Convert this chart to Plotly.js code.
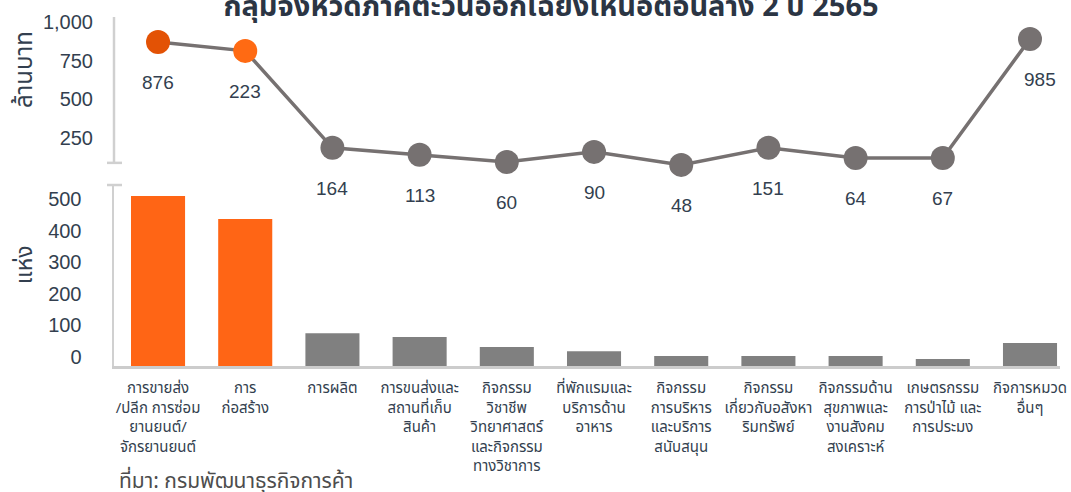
<!DOCTYPE html>
<html><head><meta charset="utf-8">
<script src="https://cdn.plot.ly/plotly-3.0.1.min.js"></script>
<style>html,body{margin:0;padding:0;background:#fff}#chart{width:1071px;height:492px}</style>
</head><body><div id="chart"></div>
<script>
const categories = [
  "การขายส่ง<br>/ปลีก การซ่อม<br>ยานยนต์/<br>จักรยานยนต์",
  "การ<br>ก่อสร้าง",
  "การผลิต",
  "การขนส่งและ<br>สถานที่เก็บ<br>สินค้า",
  "กิจกรรม<br>วิชาชีพ<br>วิทยาศาสตร์<br>และกิจกรรม<br>ทางวิชาการ",
  "ที่พักแรมและ<br>บริการด้าน<br>อาหาร",
  "กิจกรรม<br>การบริหาร<br>และบริการ<br>สนับสนุน",
  "กิจกรรม<br>เกี่ยวกับอสังหา<br>ริมทรัพย์",
  "กิจกรรมด้าน<br>สุขภาพและ<br>งานสังคม<br>สงเคราะห์",
  "เกษตรกรรม<br>การป่าไม้ และ<br>การประมง",
  "กิจการหมวด<br>อื่นๆ"
];
// capital (million baht): marker heights as drawn, and the printed labels
const capitalPlotted = [871, 813, 186, 141, 95, 160, 76, 186, 121, 121, 890];
const capitalLabels = ["876", "223", "164", "113", "60", "90", "48", "151", "64", "67", "985"];
// number of registered businesses (แห่ง)
const businessCount = [538, 465, 104, 92, 60, 47, 32, 32, 32, 22, 73];
const topTicks = [250, 500, 750, 1000];
const topTickText = ["250", "500", "750", "1,000"];
const bottomTicks = [0, 100, 200, 300, 400, 500];

const idx = categories.map((_, i) => i);
const thai = "'Noto Sans Thai', 'Noto Sans Thai UI', Kanit, Prompt, 'Noto Sans', sans-serif";
const num = "'Liberation Sans', Arial, Helvetica, sans-serif";
const txt = "#333f4f";
const axisGray = "#d0d0d0";

const barColors = idx.map(i => i < 2 ? "#FF6515" : "#808080");
const markerColors = idx.map(i => i === 0 ? "#E35205" : (i === 1 ? "#FF6A13" : "#767171"));

const traces = [
  {type: "bar", x: idx, y: businessCount, xaxis: "x", yaxis: "y",
   marker: {color: barColors}, width: 0.62, hoverinfo: "skip"},
  {type: "scatter", mode: "lines+markers", x: idx, y: capitalPlotted, xaxis: "x2", yaxis: "y2",
   line: {color: "#767171", width: 3.5},
   marker: {size: 24, color: markerColors}, cliponaxis: false, hoverinfo: "skip"}
];

const xr = [-0.505, 10.344];
const topAxisMin = 89, topAxisMax = 1032;
const annotations = idx.map(i => ({
  x: i, y: capitalPlotted[i], xref: "x2", yref: "y2", text: capitalLabels[i],
  showarrow: false, yshift: -41, xshift: i === idx.length - 1 ? 10 : 0,
  font: {family: num, size: 19, color: txt}
}));
annotations.push(
  {xref: "paper", yref: "paper", x: -0.094, y: 0.848, xanchor: "center", yanchor: "middle",
   text: "ล้านบาท", textangle: -90, showarrow: false, font: {family: thai, size: 24, color: txt}},
  {xref: "paper", yref: "paper", x: -0.094, y: 0.289, xanchor: "center", yanchor: "middle",
   text: "แห่ง", textangle: -90, showarrow: false, font: {family: thai, size: 23, color: txt}},
  {xref: "paper", yref: "paper", x: 0.003, y: -0.332, xanchor: "left", yanchor: "middle",
   text: "ที่มา: กรมพัฒนาธุรกิจการค้า", showarrow: false,
   font: {family: thai, size: 21, color: "#4d4d4d"}}
);

const capShape = (yref, yv) => ({type: "line", xref: "paper", xsizemode: "pixel", xanchor: 0,
  x0: -7, x1: 8, yref: yref, y0: yv, y1: yv, line: {color: axisGray, width: 2.5}});

const layout = {
  width: 1071, height: 492,
  margin: {l: 114, r: 11, t: 17, b: 126},
  paper_bgcolor: "#fff", plot_bgcolor: "#fff",
  showlegend: false,
  title: {text: "<b>กลุ่มจังหวัดภาคตะวันออกเฉียงเหนือตอนล่าง 2 ปี 2565</b>",
    xref: "container", yref: "container", x: 0.5145, xanchor: "center",
    y: 0.989, yanchor: "middle",
    font: {family: thai, size: 29, color: "#2b3544"}},
  xaxis: {domain: [0, 1], range: xr, anchor: "y", tickmode: "array", tickvals: idx, ticktext: categories,
    showline: true, linecolor: "#cccccc", linewidth: 3, ticks: "", showgrid: false, zeroline: false,
    tickangle: 0, ticklabelstandoff: 6, tickfont: {family: thai, size: 15, color: txt}},
  yaxis: {domain: [0, 0.5186], range: [0, 573], tickvals: bottomTicks, showline: true,
    linecolor: axisGray, linewidth: 2.5, ticks: "", showgrid: false, zeroline: false,
    ticklabelshift: -9, ticklabelstandoff: 26, tickfont: {family: num, size: 20, color: txt}},
  xaxis2: {domain: [0, 1], range: xr, anchor: "y2", visible: false},
  yaxis2: {domain: [0.5559, 1], range: [30, topAxisMax], anchor: "x2", tickvals: topTicks, ticktext: topTickText,
    showline: false, ticks: "", showgrid: false, zeroline: false,
    ticklabelstandoff: 20, tickfont: {family: num, size: 20, color: txt}},
  shapes: [
    {type: "line", xref: "paper", x0: 0, x1: 0, yref: "y2", y0: topAxisMin, y1: topAxisMax,
     line: {color: axisGray, width: 2.5}},
    capShape("y2", topAxisMin), capShape("y domain", 1)
  ],
  annotations: annotations
};

Plotly.newPlot("chart", traces, layout, {displayModeBar: false, staticPlot: true});
</script></body></html>
